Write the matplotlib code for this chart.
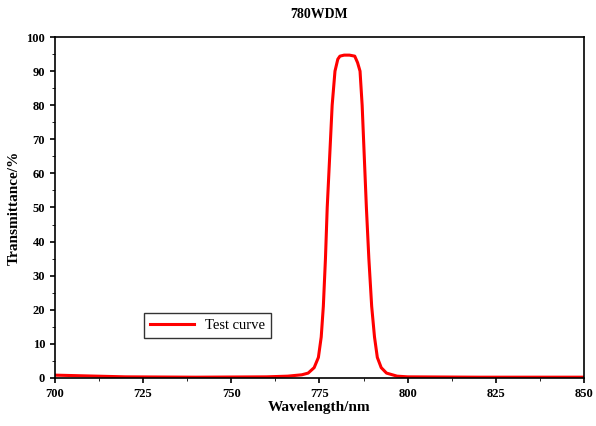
import matplotlib
matplotlib.use("Agg")
import matplotlib.pyplot as plt

wavelength = [700, 720, 740, 760, 766, 770, 771.8, 773.5, 774.7, 775.5, 776.1, 776.7, 777.2, 777.9, 778.6, 779.4, 780.2, 780.8, 782, 783.5, 785, 785.8, 786.5, 787.1, 787.7, 788.3, 789.0, 789.8, 790.6, 791.4, 792.5, 794, 797, 800, 820, 850]
transmit = [0.8, 0.3, 0.2, 0.3, 0.5, 0.9, 1.4, 3, 6, 12, 21, 35, 50, 65, 80, 90, 93.5, 94.4, 94.7, 94.7, 94.4, 92.5, 90, 80, 65, 50, 35, 21, 12, 6, 3, 1.4, 0.5, 0.3, 0.2, 0.2]

plt.rcParams['font.family'] = ['Liberation Serif', 'DejaVu Serif']
fig = plt.figure(figsize=(5.96, 4.26), dpi=100)
ax = fig.add_axes([0.092, 0.113, 0.888, 0.8])
ax.plot(wavelength, transmit, color='red', lw=2.2, label='Test curve')
ax.set_xlim(700, 850)
ax.set_ylim(0, 100)
ax.set_xticks(range(700, 851, 25))
ax.set_xticks([712.5 + 25*i for i in range(6)], minor=True)
ax.set_yticks(range(0, 101, 10))
ax.set_yticks([5 + 10*i for i in range(10)], minor=True)
ax.tick_params(labelsize=9, width=1.2)
for lab in ax.get_xticklabels() + ax.get_yticklabels():
    lab.set_fontweight('bold')
for s in ax.spines.values():
    s.set_linewidth(1.2)
ax.set_xlabel('Wavelength/nm', fontsize=11, fontweight='bold', labelpad=1)
ax.set_ylabel('Transmittance/%', fontsize=11, fontweight='bold')
ax.set_title('780WDM', fontsize=10, fontweight='bold', pad=14)
ax.legend(loc='lower left', bbox_to_anchor=(0.155, 0.095), fontsize=10.5, frameon=True,
          fancybox=False, edgecolor='black', handlelength=3)
fig.savefig('out.png', dpi=100)
